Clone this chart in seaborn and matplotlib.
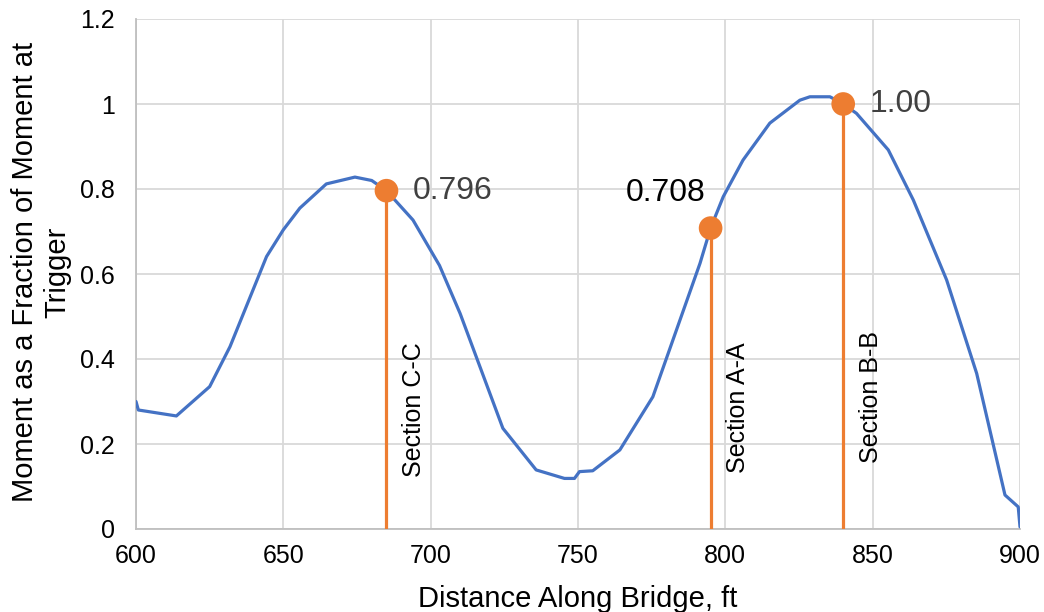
import matplotlib
matplotlib.use("Agg")
import matplotlib.pyplot as plt
import seaborn as sns
import pandas as pd

# moment envelope along the bridge
distance_ft = [600, 600.8, 613.7, 625, 631.9, 644.3, 650, 655.6, 664.6, 674.3, 680,
               685, 694, 703, 710, 724.5, 735.8, 745.4, 748.8, 750.5, 755, 764.2,
               775.4, 791.4, 795, 799.3, 806, 815.1, 825.3, 828.7, 835.5, 840,
               844.5, 855.3, 863.8, 875.1, 885.3, 894.9, 899.4, 900]
moment_frac = [0.30, 0.28, 0.266, 0.335, 0.429, 0.641, 0.704, 0.755, 0.812, 0.828, 0.82,
               0.796, 0.727, 0.62, 0.507, 0.237, 0.139, 0.119, 0.119, 0.135, 0.137, 0.186,
               0.311, 0.625, 0.708, 0.782, 0.868, 0.955, 1.009, 1.017, 1.017, 1.00,
               0.978, 0.892, 0.774, 0.586, 0.366, 0.08, 0.052, 0.005]

# checked sections
section_x = [685, 795, 840]
section_val = [0.796, 0.708, 1.00]
section_names = ["Section C-C", "Section A-A", "Section B-B"]
value_labels = ["0.796", "0.708", "1.00"]

x_ticks = [600, 650, 700, 750, 800, 850, 900]
y_ticks = [0, 0.2, 0.4, 0.6, 0.8, 1.0, 1.2]
y_ticklabels = ["0", "0.2", "0.4", "0.6", "0.8", "1", "1.2"]

sns.set_style("whitegrid")
plt.rcParams["font.family"] = ["Liberation Sans", "DejaVu Sans"]

BLUE = "#4472C4"
ORANGE = "#ED7D31"

curve = pd.DataFrame({"x": distance_ft, "y": moment_frac})
sections = pd.DataFrame({"x": section_x, "y": section_val})

fig = plt.figure(figsize=(10.44, 6.12), dpi=100)
ax = fig.add_axes([136 / 1044, 1 - 529 / 612, 884 / 1044, 510 / 612])

sns.lineplot(data=curve, x="x", y="y", ax=ax, color=BLUE, linewidth=2.3,
             sort=False, estimator=None, zorder=3)
ax.vlines(section_x, 0, section_val, color=ORANGE, linewidth=2.3, zorder=4)
sns.scatterplot(data=sections, x="x", y="y", ax=ax, color=ORANGE, s=290,
                edgecolor="none", zorder=5, clip_on=False)

# value labels next to the markers
label_style = [((19, 0), "left", "#404040"),
               ((-4, 25), "right", "black"),
               ((19, 0), "left", "#404040")]
for xv, yv, txt, (off, ha, col) in zip(section_x, section_val, value_labels, label_style):
    ax.annotate(txt, (xv, yv), xytext=off, textcoords="offset points",
                ha=ha, va="center", fontsize=23, color=col, zorder=6)

# rotated section names
name_bottom = [0.122, 0.132, 0.155]
for xv, yb, name in zip(section_x, name_bottom, section_names):
    ax.annotate(name, (xv, yb), xytext=(20, 0), textcoords="offset points",
                rotation=90, ha="center", va="bottom", fontsize=18, color="black")

ax.set_xlim(600, 900)
ax.set_ylim(0, 1.2)
ax.set_xticks(x_ticks)
ax.set_yticks(y_ticks)
ax.set_yticklabels(y_ticklabels)
ax.tick_params(axis="both", length=0, labelsize=18, colors="black")
ax.tick_params(axis="y", pad=15)
ax.tick_params(axis="x", pad=11)
ax.grid(True, color="#d9d9d9", linewidth=1.3)
ax.set_axisbelow(True)
for side in ["top", "right"]:
    ax.spines[side].set_visible(False)
for side in ["left", "bottom"]:
    ax.spines[side].set_color("#bfbfbf")
    ax.spines[side].set_linewidth(1.3)

ax.set_xlabel("Distance Along Bridge, ft", fontsize=21, color="black", labelpad=12)
ax.set_ylabel("")
fig.text(41 / 1044, 1 - 272 / 612, "Moment as a Fraction of Moment at\nTrigger",
         rotation=90, ha="center", va="center", multialignment="center",
         fontsize=21, color="black", linespacing=1.2)

fig.savefig("out.png", dpi=100)
